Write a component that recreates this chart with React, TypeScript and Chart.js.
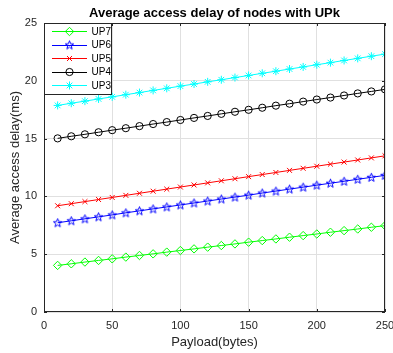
import React, { useEffect, useRef } from "react";
import { Chart, registerables } from "chart.js";

Chart.register(...registerables);

const payload = [10, 20, 30, 40, 50, 60, 70, 80, 90, 100, 110, 120, 130, 140, 150, 160, 170, 180, 190, 200, 210, 220, 230, 240, 250];

const up7 = [4.03, 4.17, 4.32, 4.46, 4.60, 4.75, 4.89, 5.03, 5.18, 5.32, 5.46, 5.61, 5.75, 5.89, 6.04, 6.18, 6.32, 6.47, 6.61, 6.75, 6.90, 7.04, 7.18, 7.33, 7.47];
const up6 = [7.72, 7.89, 8.06, 8.23, 8.40, 8.58, 8.75, 8.92, 9.09, 9.26, 9.43, 9.60, 9.77, 9.94, 10.11, 10.29, 10.46, 10.63, 10.80, 10.97, 11.14, 11.31, 11.48, 11.65, 11.82];
const up5 = [9.19, 9.37, 9.55, 9.73, 9.91, 10.09, 10.27, 10.45, 10.63, 10.81, 10.99, 11.17, 11.35, 11.53, 11.71, 11.89, 12.07, 12.25, 12.43, 12.61, 12.79, 12.97, 13.15, 13.33, 13.51];
const up4 = [15.02, 15.20, 15.37, 15.55, 15.73, 15.90, 16.08, 16.26, 16.43, 16.61, 16.79, 16.96, 17.14, 17.32, 17.49, 17.67, 17.85, 18.02, 18.20, 18.38, 18.55, 18.73, 18.91, 19.08, 19.26];
const up3 = [17.87, 18.06, 18.24, 18.43, 18.61, 18.80, 18.98, 19.17, 19.35, 19.54, 19.72, 19.91, 20.09, 20.28, 20.46, 20.65, 20.83, 21.02, 21.20, 21.39, 21.57, 21.76, 21.94, 22.13, 22.31];

const seriesNames = ["UP7", "UP6", "UP5", "UP4", "UP3"];
const titleText = "Average access delay of nodes with UPk";
const xTitle = "Payload(bytes)";
const yTitle = "Average access delay(ms)";

const FONT = "'Liberation Sans', Arial, Helvetica, sans-serif";

function makePentagram(color: string): HTMLCanvasElement {
  const c = document.createElement("canvas");
  c.width = 11;
  c.height = 11;
  const g = c.getContext("2d")!;
  const cx = 5.5, cy = 5.8, R = 4.5, r = 1.9;
  g.beginPath();
  for (let i = 0; i < 10; i++) {
    const ang = -Math.PI / 2 + (i * Math.PI) / 5;
    const rad = i % 2 === 0 ? R : r;
    const px = cx + rad * Math.cos(ang);
    const py = cy + rad * Math.sin(ang);
    if (i === 0) g.moveTo(px, py);
    else g.lineTo(px, py);
  }
  g.closePath();
  g.strokeStyle = color;
  g.lineWidth = 1;
  g.stroke();
  return c;
}

function drawMarker(ctx: CanvasRenderingContext2D, style: any, x: number, y: number, r: number, color: string) {
  ctx.save();
  ctx.strokeStyle = color;
  ctx.lineWidth = 1;
  if (typeof style !== "string") {
    ctx.drawImage(style, x - style.width / 2, y - style.height / 2);
    ctx.restore();
    return;
  }
  ctx.beginPath();
  if (style === "rectRot") {
    ctx.moveTo(x, y - r); ctx.lineTo(x + r, y); ctx.lineTo(x, y + r); ctx.lineTo(x - r, y); ctx.closePath();
  } else if (style === "circle") {
    ctx.arc(x, y, r, 0, Math.PI * 2);
  } else if (style === "crossRot") {
    const d = r * Math.SQRT1_2;
    ctx.moveTo(x - d, y - d); ctx.lineTo(x + d, y + d);
    ctx.moveTo(x + d, y - d); ctx.lineTo(x - d, y + d);
  } else if (style === "star") {
    const d = r * Math.SQRT1_2;
    ctx.moveTo(x - r, y); ctx.lineTo(x + r, y);
    ctx.moveTo(x, y - r); ctx.lineTo(x, y + r);
    ctx.moveTo(x - d, y - d); ctx.lineTo(x + d, y + d);
    ctx.moveTo(x + d, y - d); ctx.lineTo(x - d, y + d);
  }
  ctx.stroke();
  ctx.restore();
}

function boxOutline(ctx: CanvasRenderingContext2D, x0: number, y0: number, x1: number, y1: number) {
  // 1px outline with integer pixel rects (x0..x1, y0..y1 inclusive pixels)
  ctx.fillRect(x0, y0, x1 - x0 + 1, 1);
  ctx.fillRect(x0, y1, x1 - x0 + 1, 1);
  ctx.fillRect(x0, y0, 1, y1 - y0 + 1);
  ctx.fillRect(x1, y0, 1, y1 - y0 + 1);
}

export default function App() {
  const ref = useRef<HTMLCanvasElement>(null);

  useEffect(() => {
    const canvas = ref.current!;
    const star = makePentagram("#0000ff");

    const mk = (label: string, values: number[], color: string, pointStyle: any, radius: number) => ({
      label,
      data: payload.map((x, i) => ({ x, y: values[i] })),
      borderColor: color,
      backgroundColor: "rgba(0,0,0,0)",
      pointBorderColor: color,
      pointBackgroundColor: "rgba(0,0,0,0)",
      borderWidth: 1,
      pointBorderWidth: 1,
      pointStyle,
      pointRadius: radius,
      tension: 0,
    });

    const datasets = [
      mk(seriesNames[0], up7, "#00ff00", "rectRot", 4.2),
      mk(seriesNames[1], up6, "#0000ff", star, 4.5),
      mk(seriesNames[2], up5, "#ff0000", "crossRot", 3.5),
      mk(seriesNames[3], up4, "#000000", "circle", 3.6),
      mk(seriesNames[4], up3, "#00ffff", "star", 4),
    ];

    const frame = {
      id: "frame",
      afterDraw(chart: any) {
        const { ctx, chartArea: a, scales } = chart;
        ctx.save();
        const L = Math.round(a.left), R = Math.round(a.right) - 1;
        const T = Math.round(a.top), B = Math.round(a.bottom) - 1;
        ctx.fillStyle = "#262626";
        boxOutline(ctx, L, T, R, B);
        const tl = 3;
        for (const t of scales.x.ticks) {
          const px = Math.round(scales.x.getPixelForValue(t.value));
          ctx.fillRect(px, T, 1, tl);
          ctx.fillRect(px, B - tl + 1, 1, tl);
        }
        for (const t of scales.y.ticks) {
          const py = Math.round(scales.y.getPixelForValue(t.value));
          ctx.fillRect(L, py, tl, 1);
          ctx.fillRect(R - tl + 1, py, tl, 1);
        }

        // title
        ctx.fillStyle = "#000";
        ctx.font = `bold 13px ${FONT}`;
        ctx.textAlign = "center";
        ctx.textBaseline = "middle";
        ctx.fillText(titleText, (a.left + a.right) / 2, 13);

        // legend
        const bx0 = L, by0 = T, bx1 = L + 67, by1 = T + 71;
        ctx.fillStyle = "#ffffff";
        ctx.fillRect(bx0, by0, bx1 - bx0 + 1, by1 - by0 + 1);
        ctx.fillStyle = "#262626";
        boxOutline(ctx, bx0, by0, bx1, by1);
        ctx.font = `10px ${FONT}`;
        ctx.textAlign = "left";
        ctx.textBaseline = "middle";
        const rowY = [31.5, 45, 58.5, 72, 85.5];
        datasets.forEach((ds: any, i: number) => {
          const y = rowY[i];
          ctx.fillStyle = ds.borderColor;
          ctx.fillRect(52, Math.floor(y), 35, 1);
          drawMarker(ctx, ds.pointStyle, 69.5, y, ds.pointRadius, ds.borderColor);
          ctx.fillStyle = "#000";
          ctx.fillText(ds.label, 91.5, y + 0.5);
        });
        ctx.restore();
      },
    };

    const chart = new Chart(canvas, {
      type: "line",
      data: { datasets: datasets as any },
      options: {
        animation: false,
        responsive: false,
        layout: { padding: { top: 23, left: 0, right: 0, bottom: 0 } },
        plugins: { legend: { display: false }, title: { display: false }, tooltip: { enabled: false } },
        scales: {
          x: {
            type: "linear",
            min: 0,
            max: 250,
            ticks: { stepSize: 50, color: "#262626", padding: 7, font: { family: FONT, size: 11 }, maxRotation: 0 },
            grid: { color: "#e0e0e0", drawTicks: false },
            border: { display: false },
            title: { display: true, text: xTitle, color: "#262626", font: { family: FONT, size: 13 }, padding: { top: 0, bottom: 3 } },
            afterFit(s: any) { s.height = 41; s.paddingRight = 8; },
          },
          y: {
            min: 0,
            max: 25,
            ticks: { stepSize: 5, color: "#262626", padding: 7, font: { family: FONT, size: 11 } },
            grid: { color: "#e0e0e0", drawTicks: false },
            border: { display: false },
            title: { display: true, text: yTitle, color: "#262626", font: { family: FONT, size: 13 }, padding: { top: 8, bottom: 0 } },
            afterFit(s: any) { s.width = 44; },
          },
        },
      },
      plugins: [frame],
    });
    return () => chart.destroy();
  }, []);

  return (
    <div style={{ position: "fixed", left: 0, top: 0, width: 393, height: 353, background: "#fff" }}>
      <canvas ref={ref} width={393} height={353} style={{ display: "block" }} />
    </div>
  );
}
